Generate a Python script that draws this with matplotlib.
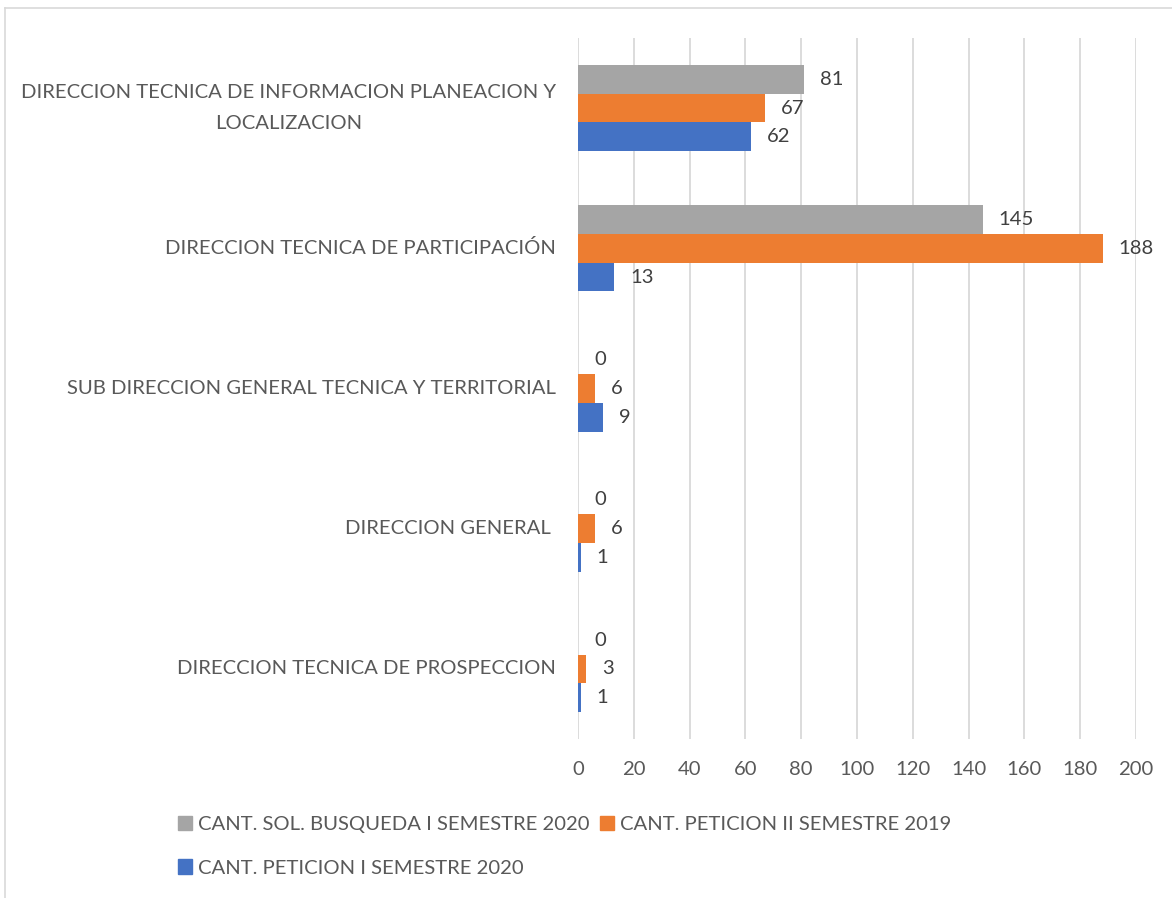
import matplotlib
matplotlib.use("Agg")
import matplotlib.pyplot as plt
from matplotlib.patches import Patch
from matplotlib.lines import Line2D
import numpy as np

categories = [
    "DIRECCION TECNICA DE INFORMACION PLANEACION Y\nLOCALIZACION",
    "DIRECCION TECNICA DE PARTICIPACIÓN",
    "SUB DIRECCION GENERAL TECNICA Y TERRITORIAL",
    "DIRECCION GENERAL ",
    "DIRECCION TECNICA DE PROSPECCION",
]
sol_busqueda_2020_1 = [81, 145, 0, 0, 0]
peticion_2019_2 = [67, 188, 6, 6, 3]
peticion_2020_1 = [62, 13, 9, 1, 1]
series_names = [
    "CANT. SOL. BUSQUEDA I SEMESTRE 2020",
    "CANT. PETICION II SEMESTRE 2019",
    "CANT. PETICION I SEMESTRE 2020",
]
x_ticks = list(range(0, 201, 20))

colors = ["#A5A5A5", "#ED7D31", "#4472C4"]
text_color = "#595959"
value_color = "#404040"
FONT = "Lato"
FS = 14.6

plt.rcParams["font.family"] = [FONT, "DejaVu Sans"]

fig = plt.figure(figsize=(11.72, 8.98), dpi=100)
ax = fig.add_axes([578 / 1172, 1 - 739 / 898, (1136 - 578) / 1172, (739 - 38) / 898])

y = np.arange(len(categories))
h = 0.205
series = [sol_busqueda_2020_1, peticion_2019_2, peticion_2020_1]
offsets = [-h, 0, h]
for vals, off, col in zip(series, offsets, colors):
    bars = ax.barh(y + off, vals, height=h, color=col, linewidth=0, zorder=3)
    for b, v in zip(bars, vals):
        ax.annotate(str(v), (v, b.get_y() + b.get_height() / 2),
                    xytext=(11.5, 0), textcoords="offset points",
                    ha="left", va="center", fontsize=FS, color=value_color)

ax.set_xlim(0, 200)
ax.set_ylim(len(categories) - 0.5, -0.5)
ax.set_xticks(x_ticks)
ax.set_yticks(y)
ax.set_yticklabels(categories, multialignment="center", linespacing=2.0, va="center")
ax.tick_params(axis="x", length=0, pad=16, labelsize=FS, labelcolor=text_color)
ax.tick_params(axis="y", length=0, pad=16, labelsize=FS, labelcolor=text_color)
ax.grid(axis="x", color="#D9D9D9", linewidth=1.3, zorder=0)
for s in ax.spines.values():
    s.set_visible(False)

handles = [Patch(color=colors[0]), Patch(color=colors[2]), Patch(color=colors[1])]
labels = [series_names[0], series_names[2], series_names[1]]
fig.legend(handles, labels, ncol=2, loc="upper left",
           bbox_to_anchor=(178 / 1172, 1 - 816 / 898), frameon=False,
           fontsize=FS, labelcolor=text_color, handlelength=0.69, handleheight=0.69,
           handletextpad=0.3, columnspacing=0.5, labelspacing=1.3,
           borderpad=0, borderaxespad=0)

fig.add_artist(Line2D([5 / 1172, 1], [1 - 8 / 898, 1 - 8 / 898], color="#D9D9D9", linewidth=1.2))
fig.add_artist(Line2D([5 / 1172, 5 / 1172], [0, 1 - 8 / 898], color="#D9D9D9", linewidth=1.2))

fig.savefig("out.png", dpi=100, facecolor="white")
